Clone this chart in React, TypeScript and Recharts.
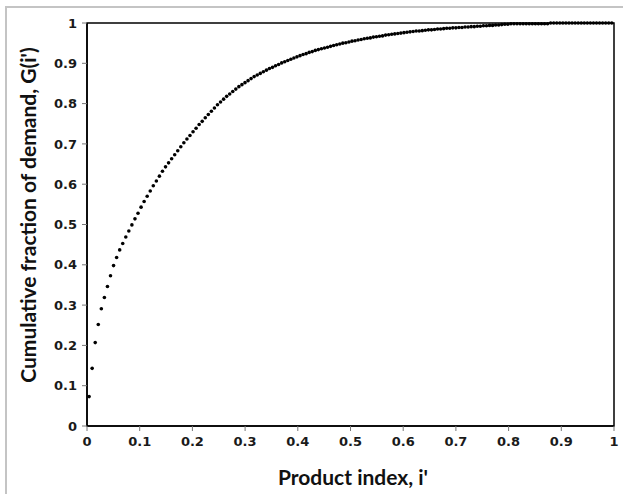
import React from 'react';
import {
  ReferenceArea,
  Scatter,
  ScatterChart,
  XAxis,
  YAxis,
} from 'recharts';

// product index i' for each point
const productIndex = [
  0.0040, 0.0098, 0.0156, 0.0214, 0.0272, 0.0330, 0.0388, 0.0446, 0.0504, 0.0562,
  0.0620, 0.0678, 0.0736, 0.0794, 0.0852, 0.0910, 0.0968, 0.1026, 0.1084, 0.1142,
  0.1200, 0.1258, 0.1316, 0.1374, 0.1432, 0.1490, 0.1548, 0.1606, 0.1664, 0.1722,
  0.1780, 0.1838, 0.1896, 0.1954, 0.2012, 0.2070, 0.2128, 0.2186, 0.2244, 0.2302,
  0.2360, 0.2418, 0.2476, 0.2534, 0.2592, 0.2650, 0.2708, 0.2766, 0.2824, 0.2882,
  0.2940, 0.2998, 0.3056, 0.3114, 0.3172, 0.3230, 0.3288, 0.3346, 0.3404, 0.3462,
  0.3520, 0.3578, 0.3636, 0.3694, 0.3752, 0.3810, 0.3868, 0.3926, 0.3984, 0.4042,
  0.4100, 0.4158, 0.4216, 0.4274, 0.4332, 0.4390, 0.4448, 0.4506, 0.4564, 0.4622,
  0.4680, 0.4738, 0.4796, 0.4854, 0.4912, 0.4970, 0.5028, 0.5086, 0.5144, 0.5202,
  0.5260, 0.5318, 0.5376, 0.5434, 0.5492, 0.5550, 0.5608, 0.5666, 0.5724, 0.5782,
  0.5840, 0.5898, 0.5956, 0.6014, 0.6072, 0.6130, 0.6188, 0.6246, 0.6304, 0.6362,
  0.6420, 0.6478, 0.6536, 0.6594, 0.6652, 0.6710, 0.6768, 0.6826, 0.6884, 0.6942,
  0.7000, 0.7058, 0.7116, 0.7174, 0.7232, 0.7290, 0.7348, 0.7406, 0.7464, 0.7522,
  0.7580, 0.7638, 0.7696, 0.7754, 0.7812, 0.7870, 0.7928, 0.7986, 0.8044, 0.8102,
  0.8160, 0.8218, 0.8276, 0.8334, 0.8392, 0.8450, 0.8508, 0.8566, 0.8624, 0.8682,
  0.8740, 0.8798, 0.8856, 0.8914, 0.8972, 0.9030, 0.9088, 0.9146, 0.9204, 0.9262,
  0.9320, 0.9378, 0.9436, 0.9494, 0.9552, 0.9610, 0.9668, 0.9726, 0.9784, 0.9842,
  0.9900, 0.9958,
];

// cumulative fraction of demand G(i')
const cumulativeDemand = [
  0.073, 0.143, 0.207, 0.252, 0.291, 0.319, 0.346, 0.373, 0.398, 0.418,
  0.437, 0.453, 0.469, 0.484, 0.499, 0.514, 0.528, 0.543, 0.557, 0.570,
  0.583, 0.596, 0.608, 0.620, 0.632, 0.643, 0.653, 0.663, 0.673, 0.683,
  0.693, 0.703, 0.712, 0.721, 0.730, 0.739, 0.748, 0.756, 0.765, 0.773,
  0.781, 0.789, 0.797, 0.804, 0.811, 0.818, 0.824, 0.830, 0.836, 0.842,
  0.847, 0.852, 0.857, 0.862, 0.867, 0.871, 0.875, 0.879, 0.883, 0.887,
  0.890, 0.894, 0.897, 0.901, 0.904, 0.907, 0.910, 0.913, 0.916, 0.919,
  0.922, 0.924, 0.927, 0.929, 0.932, 0.934, 0.936, 0.938, 0.940, 0.942,
  0.944, 0.946, 0.948, 0.950, 0.951, 0.953, 0.955, 0.956, 0.958, 0.959,
  0.961, 0.962, 0.963, 0.965, 0.966, 0.967, 0.968, 0.970, 0.971, 0.972,
  0.973, 0.974, 0.975, 0.976, 0.977, 0.978, 0.979, 0.980, 0.980, 0.981,
  0.982, 0.983, 0.983, 0.984, 0.985, 0.985, 0.986, 0.987, 0.987, 0.988,
  0.988, 0.989, 0.989, 0.990, 0.990, 0.991, 0.991, 0.992, 0.992, 0.993,
  0.993, 0.994, 0.994, 0.995, 0.995, 0.996, 0.997, 0.997, 0.998, 0.998,
  0.998, 0.998, 0.998, 0.998, 0.998, 0.998, 0.998, 0.998, 0.998, 0.998,
  0.998, 1.000, 1.000, 1.000, 1.000, 1.000, 1.000, 1.000, 1.000, 1.000,
  1.000, 1.000, 1.000, 1.000, 1.000, 1.000, 1.000, 1.000, 1.000, 1.000,
  1.000, 1.000,
];

const ticks = [0, 0.1, 0.2, 0.3, 0.4, 0.5, 0.6, 0.7, 0.8, 0.9, 1];

const data = productIndex.map((x, i) => ({ x, y: cumulativeDemand[i] }));

const tickStyle = {
  fontFamily: '"DejaVu Sans", sans-serif',
  fontSize: 13,
  fontWeight: 700,
  fill: '#1a1a1a',
};

const titleStyle = {
  fontFamily: 'Lato, sans-serif',
  fontSize: 21,
  fontWeight: 700,
  fill: '#111',
};

const fmt = (v: number) => (v === 0 || v === 1 ? String(v) : v.toFixed(1));

const Dot = (props: any) => (
  <circle cx={props.cx} cy={props.cy} r={1.8} fill="#000" />
);

export default function App() {
  return (
    <div
      style={{
        position: 'absolute',
        left: 0,
        top: 0,
        width: 623,
        height: 494,
        overflow: 'hidden',
        background: '#fff',
      }}
    >
      <div
        style={{
          position: 'absolute',
          left: 5,
          top: 6,
          width: 640,
          height: 520,
          border: '2px solid #c4c4c4',
        }}
      />
      <ScatterChart
        width={623}
        height={494}
        margin={{ top: 23, right: 9, left: 0, bottom: 0 }}
        style={{ position: 'absolute', left: 0, top: 0 }}
      >
        <XAxis
          type="number"
          dataKey="x"
          domain={[0, 1]}
          ticks={ticks}
          tickFormatter={fmt}
          height={68}
          tick={tickStyle}
          tickSize={5}
          tickMargin={6}
          axisLine={{ stroke: '#000', strokeWidth: 1.5 }}
          tickLine={{ stroke: '#777' }}
          label={{
            content: () => (
              <text x={353} y={485} textAnchor="middle" style={titleStyle}>
                Product index, i'
              </text>
            ),
          }}
        />
        <YAxis
          type="number"
          dataKey="y"
          domain={[0, 1]}
          ticks={ticks}
          tickFormatter={fmt}
          width={87}
          tick={tickStyle}
          tickSize={5}
          tickMargin={5}
          axisLine={{ stroke: '#000', strokeWidth: 1.5 }}
          tickLine={{ stroke: '#777' }}
          label={{
            content: () => (
              <text
                x={36}
                y={215}
                transform="rotate(-90 36 215)"
                textAnchor="middle"
                style={titleStyle}
              >
                Cumulative fraction of demand, G(i')
              </text>
            ),
          }}
        />
        <ReferenceArea
          x1={0}
          x2={1}
          y1={0}
          y2={1}
          fill="none"
          stroke="#000"
          strokeWidth={1.5}
          ifOverflow="visible"
        />
        <Scatter data={data} shape={Dot} isAnimationActive={false} />
      </ScatterChart>
    </div>
  );
}
